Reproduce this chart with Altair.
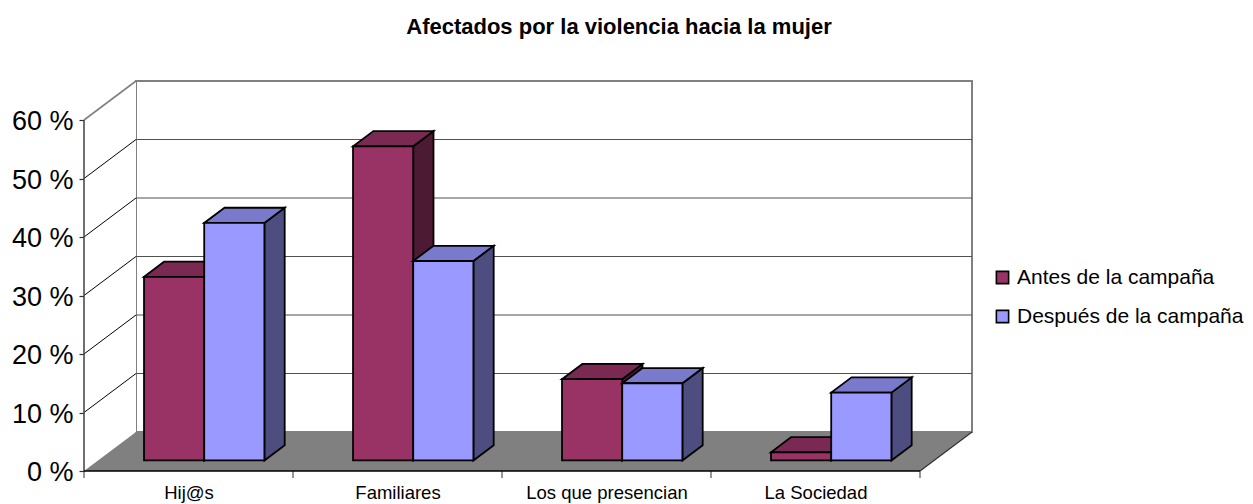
import altair as alt
import pandas as pd

TITLE = "Afectados por la violencia hacia la mujer"
categories = ["Hij@s", "Familiares", "Los que presencian", "La Sociedad"]
series_names = ["Antes de la campaña", "Después de la campaña"]
antes = [31.4, 53.7, 13.9, 1.4]
despues = [40.6, 34.1, 13.2, 11.6]
y_ticks = [0, 10, 20, 30, 40, 50, 60]

# oblique projection of the 3-D box, in axis units
DX = 52 / 209   # category widths per unit of depth
DY = 39 / 5.85  # percentage points per unit of depth
BAR_LEFT = 0.22
BAR_W = 0.288
D0, D1 = 0.27, 0.66
N = len(categories)
Y_MAX = 60
FONT = "Liberation Sans"

x_scale = alt.Scale(domain=[0, N + DX], nice=False, zero=False)
y_scale = alt.Scale(domain=[0, Y_MAX + DY], nice=False, zero=False)
color_scale = alt.Scale(domain=series_names, range=["#993366", "#9999FF"])

label_expr = "{" + ",".join(
    f"'{i + 0.5}':'{c}'" for i, c in enumerate(categories)) + "}[datum.value]"
x_axis = alt.Axis(
    values=[i + 0.5 for i in range(N)], labelExpr=label_expr, ticks=False,
    domain=False, grid=False, labelFont=FONT, labelFontSize=18.5, title=None,
    labelColor="black", labelPadding=12, labelOverlap=False, labelFlush=False)
y_axis = alt.Axis(
    values=y_ticks, labelExpr="datum.value + ' %'", tickSize=5, tickColor="#303030",
    tickWidth=1.2, domain=False, grid=False, labelFont=FONT, labelFontSize=27, title=None,
    labelColor="black", labelPadding=6, labelOffset=1.5)


def X(f="x"):
    return alt.X(f"{f}:Q", scale=x_scale, axis=x_axis)


def Y(f="y"):
    return alt.Y(f"{f}:Q", scale=y_scale, axis=y_axis)


def X2(f="x2"):
    return alt.X2(f"{f}:Q")


def Y2(f="y2"):
    return alt.Y2(f"{f}:Q")


def px(pos, d):
    return pos + d * DX


def py(v, d):
    return v + d * DY


# ---------- walls and floor ----------
side_wall = alt.Chart(pd.DataFrame([
    {"x": 0, "y": 0, "y2": Y_MAX},
    {"x": DX, "y": DY, "y2": Y_MAX + DY},
])).mark_area(color="white").encode(x=X(), y=Y(), y2=Y2())

back_wall = alt.Chart(pd.DataFrame([
    {"x": DX, "x2": N + DX, "y": DY, "y2": Y_MAX + DY},
])).mark_rect(fill="white", stroke="#808080", strokeWidth=2).encode(
    x=X(), x2=X2(), y=Y(), y2=Y2())

floor = alt.Chart(pd.DataFrame([
    {"y": 0, "x": 0, "x2": N},
    {"y": DY, "x": DX, "x2": N + DX},
])).mark_area(orient="horizontal", color="#808080").encode(y=Y(), x=X(), x2=X2())

grid = alt.Chart(pd.DataFrame(
    [{"x": DX, "x2": N + DX, "y": py(t, 1)} for t in y_ticks[1:-1]]
)).mark_rule(color="#505050", strokeWidth=1.2).encode(x=X(), x2=X2(), y=Y())

side_rows = []
for t in y_ticks[1:-1]:
    side_rows += [{"t": t, "x": 0, "y": t}, {"t": t, "x": DX, "y": py(t, 1)}]
side_lines = alt.Chart(pd.DataFrame(side_rows)).mark_line(
    color="black", strokeWidth=1).encode(x=X(), y=Y(), detail="t:N")

top_diag = alt.Chart(pd.DataFrame([
    {"x": 0, "y": Y_MAX}, {"x": DX, "y": py(Y_MAX, 1)},
])).mark_line(color="#808080", strokeWidth=1.6).encode(x=X(), y=Y())

floor_diag = alt.Chart(pd.DataFrame([
    {"x": N, "y": 0}, {"x": N + DX, "y": DY},
])).mark_line(color="#303030", strokeWidth=1.2).encode(x=X(), y=Y())

y_line = alt.Chart(pd.DataFrame([{"x": 0, "y": 0, "y2": Y_MAX}])).mark_rule(
    color="#404040", strokeWidth=1.5).encode(x=X(), y=Y(), y2=Y2())

x_line = alt.Chart(pd.DataFrame([{"x": 0, "x2": N, "y": 0}])).mark_rule(
    color="black", strokeWidth=1.6).encode(x=X(), x2=X2(), y=Y())

x_ticks = alt.Chart(pd.DataFrame(
    [{"x": i} for i in range(N + 1)]
)).mark_rule(color="#303030", strokeWidth=1).encode(
    x=X(), y=alt.value(390), y2=alt.value(397))

# ---------- bars ----------
STROKE = dict(stroke="black", strokeWidth=1.8)


def bar_layers(values, idx, top_color, side_color):
    name = series_names[idx]
    side, top, front = [], [], []
    for c, v in enumerate(values):
        left = c + BAR_LEFT + idx * BAR_W
        right = left + BAR_W
        side += [
            {"b": c, "x": px(right, D0), "y": py(0, D0), "y2": py(v, D0)},
            {"b": c, "x": px(right, D1), "y": py(0, D1), "y2": py(v, D1)},
        ]
        top += [
            {"b": c, "y": py(v, D0), "x": px(left, D0), "x2": px(right, D0)},
            {"b": c, "y": py(v, D1), "x": px(left, D1), "x2": px(right, D1)},
        ]
        front.append({"b": c, "series": name, "x": px(left, D0), "x2": px(right, D0),
                      "y": py(0, D0), "y2": py(v, D0)})
    return [
        alt.Chart(pd.DataFrame(side)).mark_area(color=side_color, **STROKE).encode(
            x=X(), y=Y(), y2=Y2(), detail="b:N"),
        alt.Chart(pd.DataFrame(top)).mark_area(orient="horizontal", color=top_color, **STROKE).encode(
            y=Y(), x=X(), x2=X2(), detail="b:N"),
        alt.Chart(pd.DataFrame(front)).mark_rect(**STROKE).encode(
            x=X(), x2=X2(), y=Y(), y2=Y2(),
            color=alt.Color("series:N", scale=color_scale, legend=alt.Legend(
                title=None, orient="none", legendX=908, legendY=186,
                symbolType="square", symbolSize=150, symbolStrokeColor="black",
                symbolStrokeWidth=1.6, labelFont=FONT, labelFontSize=21,
                labelColor="black", labelOffset=4, rowPadding=17,
                labelLimit=300))),
    ]


layers = [back_wall, side_wall, side_lines, top_diag, grid, floor, floor_diag,
          y_line, x_ticks, x_line]
layers += bar_layers(antes, 0, "#7A2952", "#4D1A33")
layers += bar_layers(despues, 1, "#7A7ACC", "#4D4D80")

chart = alt.layer(*layers).properties(
    width=888,
    height=390,
    autosize=alt.AutoSizeParams(type="none"),
    padding={"left": 76, "top": 73, "right": 273, "bottom": 33},
    background="white",
    title=alt.TitleParams(TITLE, font=FONT, fontSize=22, fontWeight="bold", color="black",
                          anchor="middle", dx=91, offset=39),
).configure_view(stroke=None)

chart.save("out.html", embed_options={"renderer": "svg", "actions": False})
